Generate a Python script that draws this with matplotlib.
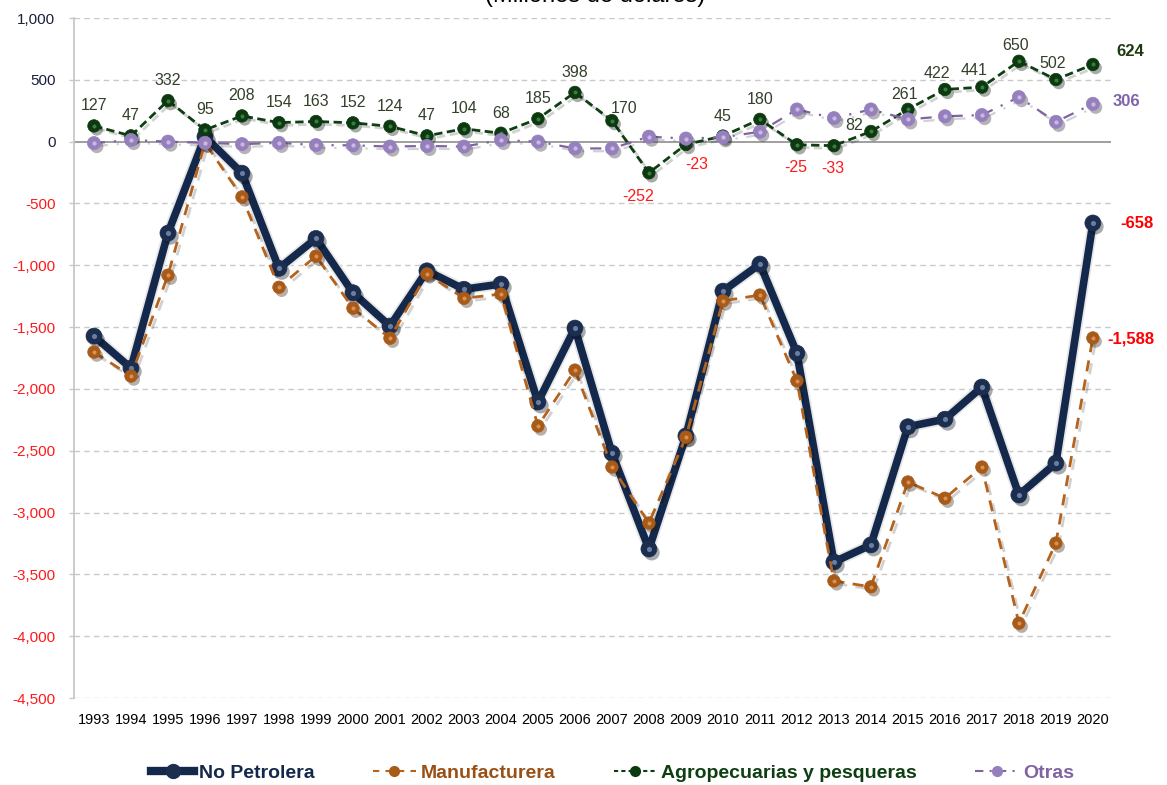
import numpy as np
import matplotlib
matplotlib.use("Agg")
import matplotlib.pyplot as plt
import matplotlib.patheffects as pe
from matplotlib.lines import Line2D

years = [str(y) for y in range(1993, 2021)]

no_petrolera = [-1573, -1832, -740, 40, -255, -1025, -783, -1222, -1492, -1045,
                -1194, -1152, -2106, -1508, -2519, -3295, -2380, -1209, -990, -1711,
                -3400, -3262, -2306, -2245, -1985, -2858, -2600, -658]
manufacturera = [-1702, -1896, -1080, -10, -447, -1178, -926, -1347, -1590, -1070,
                 -1267, -1233, -2300, -1848, -2632, -3085, -2390, -1288, -1241, -1935,
                 -3553, -3601, -2753, -2884, -2632, -3895, -3247, -1588]
agro = [127, 47, 332, 95, 208, 154, 163, 152, 124, 47, 104, 68, 185, 398, 170,
        -252, -23, 45, 180, -25, -33, 82, 261, 422, 441, 650, 502, 624]
otras = [-12, 13, 0, -10, -20, -10, -28, -30, -40, -35, -40, 13, 0, -55, -55,
         40, 25, 35, 80, 260, 190, 260, 180, 205, 215, 360, 160, 306]

series_names = ["No Petrolera", "Manufacturera", "Agropecuarias y pesqueras", "Otras"]
yticks = list(range(-4500, 1001, 500))

NAVY = "#13284a"
BROWN = "#b5621c"
GREEN = "#0e3f12"
PURPLE = "#8064a2"

plt.rcParams["font.family"] = ["Liberation Sans", "DejaVu Sans"]
NARROW = ["Liberation Sans Narrow", "Liberation Sans", "DejaVu Sans"]

fig = plt.figure(figsize=(11.67, 7.85), dpi=100)
ax = fig.add_axes([74 / 1167, 1 - 698 / 785, (1111 - 74) / 1167, (698 - 18) / 785])

x = np.arange(len(years))

# grid
for yv in yticks:
    if yv == 0:
        ax.axhline(0, color="#858585", lw=1.1, zorder=1)
    else:
        ax.axhline(yv, color="#c9c9c9", lw=1.0, ls=(0, (4, 3)), zorder=1)

shadow = [pe.SimpleLineShadow(offset=(2, -2), shadow_color="#000000", alpha=0.18), pe.Normal()]

def sphere(xs, ys, color, hl, size, z):
    ax.plot(xs, ys, ls="none", marker="o", ms=size, mfc=color, mec=color, mew=0.5,
            zorder=z, path_effects=[pe.SimplePatchShadow(offset=(2, -2.5), alpha=0.35), pe.Normal()])
    ax.plot(xs, ys, ls="none", marker="o", ms=size * 0.32, mfc=hl, mec="none",
            alpha=0.8, zorder=z + 0.1)

# No Petrolera
ax.plot(x, no_petrolera, color=NAVY, lw=5.5, zorder=3, solid_joinstyle="round",
        path_effects=[pe.Stroke(linewidth=8, foreground="#e6e6e6"), pe.Normal()])
sphere(x, no_petrolera, "#1c2e4f", "#7f93b8", 11.5, 3.5)

# Manufacturera
ax.plot(x, manufacturera, color=BROWN, lw=2, ls=(0, (4, 3)), zorder=4, path_effects=shadow)
sphere(x, manufacturera, "#a85a18", "#e8a060", 9, 4.5)

# Agro
ax.plot(x, agro, color=GREEN, lw=2, ls=(0, (3, 1.6)), zorder=5, path_effects=shadow)
sphere(x, agro, "#0c3a10", "#4f8a4f", 9, 5.5)

# Otras
ax.plot(x, otras, color=PURPLE, lw=1.6, ls=(0, (5, 4, 1, 4)), zorder=6, path_effects=shadow)
sphere(x, otras, "#9580bd", "#d5c8ea", 9.5, 6.5)

# data labels for agro (offsets in pixels)
offsets = {14: (12, 12), 15: (-11, -24), 16: (11, -20), 19: (-1, -23), 20: (-1, -23),
           21: (-17, 6), 22: (-3, 15), 23: (-8, 16), 24: (-8, 17), 25: (-3, 16), 26: (-3, 16)}
for i, v in enumerate(agro[:-1]):
    dx, dy = offsets.get(i, (0, 20) if v >= 0 else (0, -23))
    col = "#ff1a1a" if v < 0 else "#33402a"
    ax.annotate(f"{v:,}", (x[i], v), xytext=(dx * 0.72, dy * 0.72),
                textcoords="offset points", ha="center", va="center", fontsize=11.5,
                color=col, family=NARROW, zorder=10)

# end labels
end_specs = [(agro, "#1f3a10", 37, 13), (otras, "#7f63a8", 34, 2),
             (no_petrolera, "#ff0000", 44, -1), (manufacturera, "#ff0000", 38, -1)]
for series, col, dx, dy in end_specs:
    v = series[-1]
    ax.annotate(f"{v:,}", (x[-1], v), xytext=(dx * 0.72, dy * 0.72), textcoords="offset points",
                ha="center", va="center", fontsize=12, fontweight="bold", color=col,
                annotation_clip=False, zorder=10)

ax.set_xlim(-0.54, len(years) - 0.51)
ax.set_ylim(-4500, 1000)
ax.set_yticks(yticks)
ax.set_yticklabels([f"{v:,}" for v in yticks])
for lab, v in zip(ax.get_yticklabels(), yticks):
    lab.set_color("#ff1a1a" if v < 0 else "#1a1f3a")
ax.set_xticks(x)
ax.set_xticklabels(years, fontsize=10.5)
ax.tick_params(axis="x", length=0, pad=11)
ax.tick_params(axis="y", length=3.4, width=1, color="#c9c9c9", pad=10, labelsize=11)
for s in ["top", "right", "bottom"]:
    ax.spines[s].set_visible(False)
ax.spines["left"].set_color("#c4c4c4")
ax.spines["left"].set_linewidth(1.2)

# title (cut off at the top edge, as in the source)
fig.text(0.51, 1 - 2 / 785, "(Millones de dólares)", ha="center", va="baseline",
         fontsize=17, color="black")

# legend
handles = [
    Line2D([], [], color=NAVY, lw=6, marker="o", ms=10, mfc="#1c2e4f", mec="#1c2e4f"),
    Line2D([], [], color=BROWN, lw=1.5, ls=(0, (3, 3)), marker="o", ms=7, mfc="#a85a18", mec="#a85a18"),
    Line2D([], [], color=GREEN, lw=1.5, ls=(0, (2, 1.5)), marker="o", ms=7, mfc="#0c3a10", mec="#0c3a10"),
    Line2D([], [], color=PURPLE, lw=1.5, ls=(0, (4, 3, 1, 3)), marker="o", ms=7, mfc="#9580bd", mec="#9580bd"),
]
leg = fig.legend(handles, series_names, loc="center", bbox_to_anchor=(0.525, 1 - 773 / 785),
                 ncol=4, frameon=False, handlelength=2.2, handletextpad=0.25, columnspacing=3.0,
                 prop={"size": 14, "weight": "bold"})
for t, c in zip(leg.get_texts(), ["#14284a", "#9a4f14", "#0e3f12", "#8064a2"]):
    t.set_color(c)

fig.savefig("out.png", dpi=100)
